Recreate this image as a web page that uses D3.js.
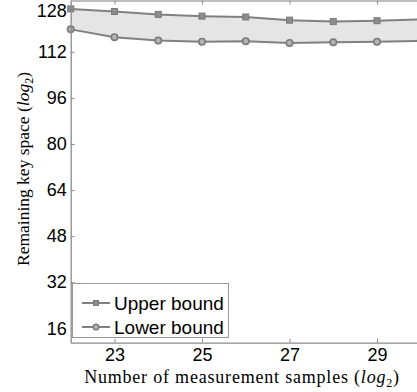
<!DOCTYPE html>
<html>
  <head>
    <meta charset="utf-8">
    <script src="https://d3js.org/d3.v7.min.js"></script>
    <style>
      body { margin: 0; background: #fff; }
      .tick text { font-family: "Liberation Sans", Arial, sans-serif; font-size: 18px; fill: #000; }
      .axis-label { font-family: "Liberation Serif", "DejaVu Serif", serif; fill: #000; }
      .legend text { font-family: "Liberation Sans", Arial, sans-serif; font-size: 19px; fill: #000; }
    </style>
  </head>
  <body>
    <svg width="417" height="392"></svg>
    <script>
      // data
      const samples = [22, 23, 24, 25, 26, 27, 28, 29, 30];
      const upperBound = [126.9, 126.0, 125.0, 124.4, 124.1, 123.0, 122.5, 122.8, 123.3];
      const lowerBound = [119.8, 117.1, 115.9, 115.5, 115.7, 115.1, 115.3, 115.5, 115.8];
      const xTicks = [23, 25, 27, 29];
      const yTicks = [16, 32, 48, 64, 80, 96, 112, 128];

      const svg = d3.select('svg');
      const left = 70.7, bottom = 342.7;

      const xScale = d3.scaleLinear().domain([22, 30]).range([left, 420.8]);
      const yScale = d3.scaleLinear().domain([11, 130]).range([bottom, 0]);

      const data = samples.map((s, i) => ({x: s, up: upperBound[i], lo: lowerBound[i]}));

      // shaded band between bounds
      svg.append('path')
        .datum(data)
        .attr('fill', '#e5e5e5')
        .attr('d', d3.area()
          .x(d => xScale(d.x))
          .y0(d => yScale(d.lo))
          .y1(d => yScale(d.up)));

      const lineColor = '#808080';
      const line = key => d3.line().x(d => xScale(d.x)).y(d => yScale(d[key]));

      svg.append('path').datum(data)
        .attr('fill', 'none').attr('stroke', lineColor).attr('stroke-width', 2)
        .attr('d', line('up'));
      svg.append('path').datum(data)
        .attr('fill', 'none').attr('stroke', lineColor).attr('stroke-width', 2)
        .attr('d', line('lo'));

      // markers
      svg.selectAll('rect.up').data(data)
        .enter().append('rect')
          .attr('class', 'up')
          .attr('x', d => xScale(d.x) - 3)
          .attr('y', d => yScale(d.up) - 3)
          .attr('width', 6)
          .attr('height', 6)
          .attr('fill', '#8c8c8c')
          .attr('stroke', '#7a7a7a')
          .attr('stroke-width', 1);
      svg.selectAll('circle.lo').data(data)
        .enter().append('circle')
          .attr('class', 'lo')
          .attr('cx', d => xScale(d.x))
          .attr('cy', d => yScale(d.lo))
          .attr('r', 3.2)
          .attr('fill', '#b4b4b4')
          .attr('stroke', '#7a7a7a')
          .attr('stroke-width', 1.6);

      // axes, ticks pointing inward
      const axisColor = '#8c8c8c';
      const xAxisG = svg.append('g')
        .attr('transform', `translate(0, ${bottom})`)
        .call(d3.axisBottom(xScale).tickValues(xTicks).tickSize(-4).tickSizeOuter(0).tickPadding(6));
      const topAxisG = svg.append('g')
        .attr('transform', 'translate(0, 0.5)')
        .call(d3.axisTop(xScale).tickValues(xTicks).tickSize(-4).tickSizeOuter(0).tickFormat(''));
      const yAxisG = svg.append('g')
        .attr('transform', `translate(${left}, 0)`)
        .call(d3.axisLeft(yScale).tickValues(yTicks).tickSize(-4).tickSizeOuter(0).tickPadding(4));

      [xAxisG, topAxisG, yAxisG].forEach(g => {
        g.select('.domain').attr('stroke', axisColor).attr('stroke-width', 1.3);
        g.selectAll('.tick line').attr('stroke', axisColor);
      });
      topAxisG.select('.domain').attr('stroke', '#bdbdbd').attr('stroke-width', 2);
      // keep the top label inside the frame
      yAxisG.selectAll('.tick text').filter(d => d === 128).attr('dy', '0.6em');

      // axis titles
      const xLabel = svg.append('text')
        .attr('class', 'axis-label')
        .attr('x', 242)
        .attr('y', 383)
        .attr('font-size', '18px')
        .attr('letter-spacing', '0.8px')
        .attr('text-anchor', 'middle');
      xLabel.append('tspan').text('Number of measurement samples (');
      xLabel.append('tspan').attr('font-style', 'italic').text('log');
      xLabel.append('tspan').attr('font-size', '12px').attr('dy', 4).text('2');
      xLabel.append('tspan').attr('dy', -4).text(')');

      const yLabel = svg.append('text')
        .attr('class', 'axis-label')
        .attr('font-size', '17.5px')
        .attr('transform', 'translate(29, 169) rotate(-90)')
        .attr('text-anchor', 'middle');
      yLabel.append('tspan').text('Remaining key space (');
      yLabel.append('tspan').attr('font-style', 'italic').text('log');
      yLabel.append('tspan').attr('font-size', '12px').attr('dy', 4).text('2');
      yLabel.append('tspan').attr('dy', -4).text(')');

      // legend
      const legend = svg.append('g').attr('class', 'legend');
      legend.append('rect')
        .attr('x', 72.5).attr('y', 283.5)
        .attr('width', 156).attr('height', 54)
        .attr('fill', '#fff').attr('stroke', '#9a9a9a').attr('stroke-width', 1);
      const entries = [
        {label: 'Upper bound', shape: 'square', y: 303},
        {label: 'Lower bound', shape: 'circle', y: 327}
      ];
      entries.forEach(e => {
        legend.append('line')
          .attr('x1', 82).attr('x2', 110).attr('y1', e.y).attr('y2', e.y)
          .attr('stroke', lineColor).attr('stroke-width', 2);
        if (e.shape === 'square') {
          legend.append('rect')
            .attr('x', 93.5).attr('y', e.y - 2.5).attr('width', 5).attr('height', 5)
            .attr('fill', '#8c8c8c').attr('stroke', '#7a7a7a');
        } else {
          legend.append('circle')
            .attr('cx', 96).attr('cy', e.y).attr('r', 2.8)
            .attr('fill', '#b4b4b4').attr('stroke', '#7a7a7a').attr('stroke-width', 1.4);
        }
        legend.append('text')
          .attr('x', 114).attr('y', e.y)
          .attr('dy', '0.36em')
          .text(e.label);
      });
    </script>
  </body>
</html>
